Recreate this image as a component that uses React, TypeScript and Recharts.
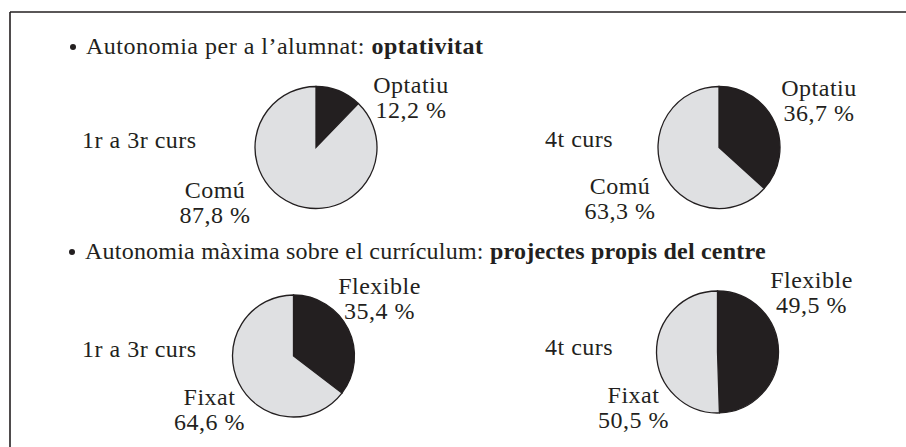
import { Pie, PieChart } from "recharts";

// categories and values
const OPT_NAMES = ["Optatiu", "Comú"];
const OPT_1R3R = [12.2, 87.8];
const OPT_4T = [36.7, 63.3];

const PROJ_NAMES = ["Flexible", "Fixat"];
const PROJ_1R3R = [35.4, 64.6];
const PROJ_4T = [49.5, 50.5];

const COURSES = ["1r a 3r curs", "4t curs"];
const TITLE_1 = ["Autonomia per a l’alumnat: ", "optativitat"];
const TITLE_2 = ["Autonomia màxima sobre el currículum: ", "projectes propis del centre"];

const INK = "#231f20";
const LIGHT = "#dfe0e2";
const FONT = "Liberation Serif";
const W = 906;
const H = 447;
const TXT = { fontFamily: FONT, fontSize: 24, letterSpacing: 0.5 };

const toTable = (names: string[], values: number[]) =>
  names.map((name, i) => ({ name, value: values[i], fill: i === 0 ? INK : LIGHT }));

const fmt = (v: number) => `${v.toFixed(1).replace(".", ",")} %`;

type Off = { dx: number; dy: number };

// label placement relative to pie centre: [dark slice, light slice]
function makeLabel(offs: Off[]) {
  return (p: any) => {
    const o = offs[p.index];
    const x = p.cx + o.dx;
    const y = p.cy + o.dy;
    return (
      <text x={x} y={y} textAnchor="middle" fill={INK} style={TXT}>
        <tspan x={x} y={y}>{p.name}</tspan>
        <tspan x={x} y={y + 25}>{fmt(p.value)}</tspan>
      </text>
    );
  };
}

const PIES = [
  { data: toTable(OPT_NAMES, OPT_1R3R), cx: 316, cy: 147.5, offs: [{ dx: 95, dy: -55 }, { dx: -101, dy: 50 }] },
  { data: toTable(OPT_NAMES, OPT_4T), cx: 719, cy: 147.5, offs: [{ dx: 100, dy: -52 }, { dx: -99, dy: 46 }] },
  { data: toTable(PROJ_NAMES, PROJ_1R3R), cx: 293.5, cy: 356, offs: [{ dx: 86, dy: -62 }, { dx: -84, dy: 49 }] },
  { data: toTable(PROJ_NAMES, PROJ_4T), cx: 717.5, cy: 352, offs: [{ dx: 94, dy: -64 }, { dx: -84, dy: 51 }] },
];

export default function App() {
  return (
    <div style={{ position: "absolute", left: 0, top: 0, width: W, height: H, background: "#fff", fontFamily: FONT }}>
      <PieChart width={W} height={H} margin={{ top: 0, right: 0, bottom: 0, left: 0 }}>
        {PIES.map((pie, i) => (
          <Pie
            key={i}
            data={pie.data}
            dataKey="value"
            nameKey="name"
            cx={pie.cx}
            cy={pie.cy}
            outerRadius={61}
            startAngle={90}
            endAngle={-270}
            stroke={INK}
            strokeWidth={1.3}
            label={makeLabel(pie.offs)}
            labelLine={false}
            isAnimationActive={false}
          />
        ))}
      </PieChart>

      <svg width={W} height={H} style={{ position: "absolute", left: 0, top: 0, pointerEvents: "none" }}>
        {/* frame, open at right and bottom */}
        <line x1={10} y1={12} x2={W} y2={12} stroke={INK} strokeWidth={1.6} />
        <line x1={10} y1={12} x2={10} y2={H} stroke={INK} strokeWidth={1.6} />

        <g fill={INK}>
          <circle cx={73} cy={47} r={3} />
          <text x={86} y={54} style={TXT}>
            {TITLE_1[0]}
            <tspan fontWeight="bold">{TITLE_1[1]}</tspan>
          </text>
          <circle cx={72} cy={252} r={3} />
          <text x={85} y={259} style={{ ...TXT, letterSpacing: 0.22 }}>
            {TITLE_2[0]}
            <tspan fontWeight="bold">{TITLE_2[1]}</tspan>
          </text>

          <text x={82} y={148} style={TXT}>{COURSES[0]}</text>
          <text x={545} y={147} style={TXT}>{COURSES[1]}</text>
          <text x={82} y={357} style={TXT}>{COURSES[0]}</text>
          <text x={545} y={355} style={TXT}>{COURSES[1]}</text>
        </g>
      </svg>
    </div>
  );
}
